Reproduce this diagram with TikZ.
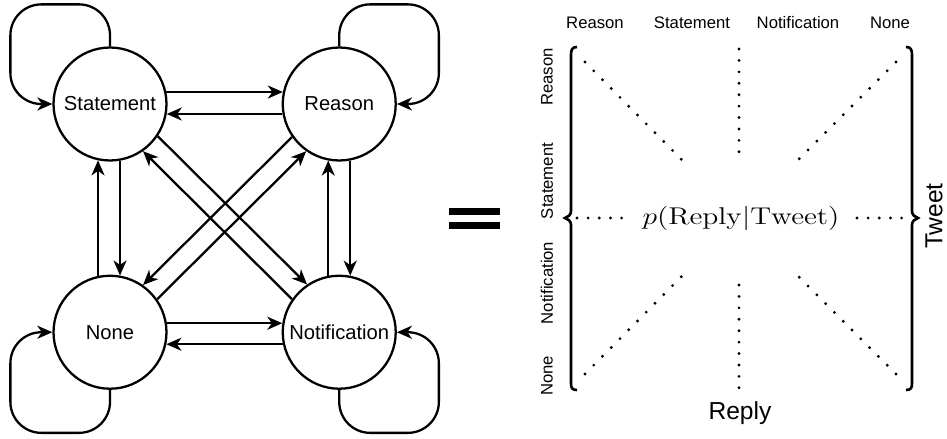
\documentclass[tikz,border=0pt]{standalone}
\usepackage[no-math]{fontspec}
\setmainfont{Liberation Sans}
\usetikzlibrary{arrows.meta,positioning}

\begin{document}
\begin{tikzpicture}[x=0.02cm, y=-0.02cm, >={Stealth[length=3mm,width=2.6mm,inset=0.9mm]},
    state/.style={draw, circle, line width=1.3pt, minimum size=2.26cm, inner sep=0pt, font=\fontsize{11.5}{13}\selectfont},
    link/.style={->, line width=1.3pt},
    selfloop/.style={->, line width=1.3pt, rounded corners=0.62cm},
    lbl/.style={font=\fontsize{9.5}{11}\selectfont, inner sep=0pt},
    axis/.style={font=\fontsize{14}{16}\selectfont, inner sep=0pt},
    brace/.style={line width=1.5pt},
    dots/.style={line width=1.8pt, line cap=round}]
    \useasboundingbox (0,0) rectangle (947,439);

    % the four reply types
    \node[state] (st) at (110,104) {Statement};
    \node[state, right=2.28cm of st] (re) {Reason};
    \node[state, below=2.26cm of st] (no) {None};
    \node[state, right=2.28cm of no] (nt) {Notification};

    % self loops
    \draw[selfloop] (st.north) -- ++(0,-42) -| ([xshift=-0.84cm]st.west) -- (st.west);
    \draw[selfloop] (re.north) -- ++(0,-42) -| ([xshift=0.84cm]re.east) -- (re.east);
    \draw[selfloop] (no.south) -- ++(0,43) -| ([xshift=-0.84cm]no.west) -- (no.west);
    \draw[selfloop] (nt.south) -- ++(0,43) -| ([xshift=0.84cm]nt.east) -- (nt.east);

    % transitions
    \draw[link] (st.12) -- (re.168);
    \draw[link] (re.190) -- (st.-10);
    \draw[link] (no.9) -- (nt.171);
    \draw[link] (nt.192) -- (no.-12);
    \draw[link] (no.102) -- (st.258);
    \draw[link] (st.280) -- (no.80);
    \draw[link] (nt.101) -- (re.259);
    \draw[link] (re.281) -- (nt.79);
    \draw[link] (st.-34.5) -- (nt.124.5);
    \draw[link] (nt.145) -- (st.-55);
    \draw[link] (re.215) -- (no.55);
    \draw[link] (no.35) -- (re.235);

    % equals sign
    \fill (449,208) rectangle (500,215);
    \fill (449,222) rectangle (500,229);

    % matrix labels
    \node[lbl] (cr) at (595,23) {Reason};
    \node[lbl] (cs) at (692,23) {Statement};
    \node[lbl] (cn) at (798,23) {Notification};
    \node[lbl] (co) at (890,23) {None};
    \node[lbl, rotate=90] (rr) at (547,77) {Reason};
    \node[lbl, rotate=90] (rs) at (547,181) {Statement};
    \node[lbl, rotate=90] (rn) at (547,283) {Notification};
    \node[lbl, rotate=90] (ro) at (547,376) {None};
    \node[axis, anchor=base] (reply) at (740,419) {Reply};
    \node[axis, rotate=90] (tweet) at (934,216) {Tweet};
    \node[anchor=base, inner sep=0pt] (prob) at (741,224)
      {\fontsize{12}{14}\selectfont\scalebox{1.4}[1.15]{$p(\mathrm{Reply}|\mathrm{Tweet})$}};

    % braces
    \draw[brace] (577,47) .. controls (572,47) and (571,50) .. (571,55) -- (571,211)
      .. controls (571,215) and (568,217) .. (565,218) .. controls (568,219) and (571,221) .. (571,225)
      -- (571,383) .. controls (571,388) and (572,390) .. (577,390);
    \draw[brace] (906,47) .. controls (911,47) and (912,50) .. (912,55) -- (912,211)
      .. controls (912,215) and (915,217) .. (918,218) .. controls (915,219) and (912,221) .. (912,225)
      -- (912,383) .. controls (912,388) and (911,390) .. (906,390);

    % dots
    \draw[dots, dash pattern=on 0pt off 7.08pt] (585,62) -- (682,160);
    \draw[dots, dash pattern=on 0pt off 6.5pt] (739,49) -- (739,153);
    \draw[dots, dash pattern=on 0pt off 7.08pt] (896,62) -- (798,160);
    \draw[dots, dash pattern=on 0pt off 7.08pt] (585,374) -- (682,276);
    \draw[dots, dash pattern=on 0pt off 6.5pt] (739,285) -- (739,388);
    \draw[dots, dash pattern=on 0pt off 7.08pt] (896,374) -- (798,276);
    \draw[dots, dash pattern=on 0pt off 6.35pt] (577,218) -- (622,218);
    \draw[dots, dash pattern=on 0pt off 6.35pt] (857,218) -- (902,218);
  \end{tikzpicture}
\end{document}
